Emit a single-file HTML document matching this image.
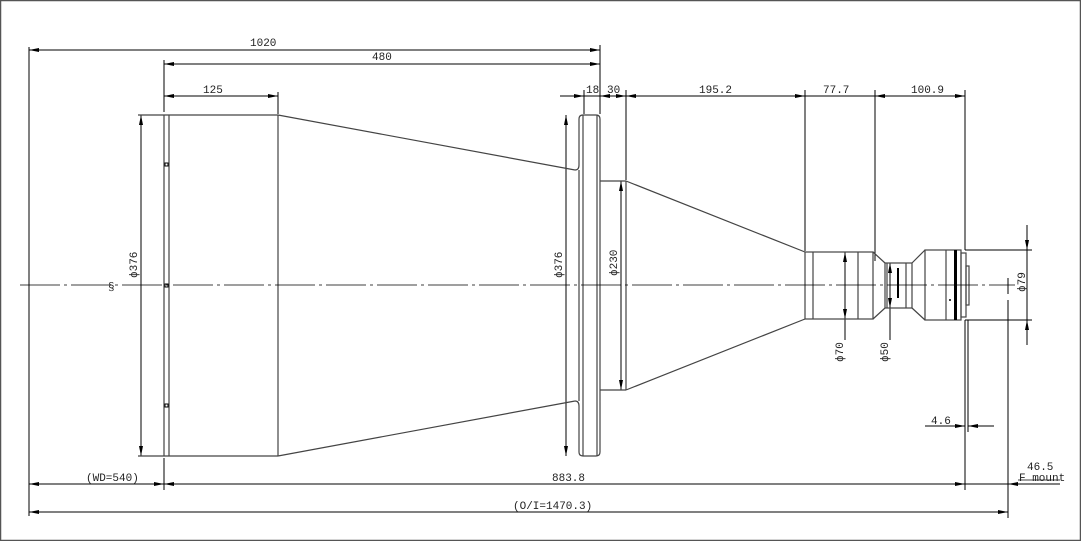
<!DOCTYPE html>
<html><head><style>
html,body{margin:0;padding:0;background:#fff;}
svg{display:block;}
text{font-family:"Liberation Mono","DejaVu Sans Mono",monospace;font-size:11px;fill:#222;}
</style></head><body>
<svg width="1081" height="541" viewBox="0 0 1081 541" xmlns="http://www.w3.org/2000/svg">
<defs>
<marker id="a" viewBox="0 0 10 4" refX="10" refY="2" markerWidth="10" markerHeight="4" orient="auto-start-reverse" markerUnits="userSpaceOnUse"><path d="M0,0 L10,2 L0,4Z" fill="#000"/></marker>
</defs>
<rect x="0.5" y="0.5" width="1080" height="540" fill="none" stroke="#555" stroke-width="1.5"/>
<g stroke="#000" stroke-width="1" fill="none">
<!-- extension lines -->
<line x1="29" y1="47" x2="29" y2="516"/>
<line x1="164" y1="60" x2="164" y2="112"/>
<line x1="164" y1="458" x2="164" y2="490"/>
<line x1="278" y1="92" x2="278" y2="114"/>
<line x1="600" y1="45" x2="600" y2="114"/>
<line x1="584" y1="90" x2="584" y2="114"/>
<line x1="626" y1="90" x2="626" y2="180"/>
<line x1="805" y1="90" x2="805" y2="251"/>
<line x1="875" y1="90" x2="875" y2="261"/>
<line x1="965" y1="90" x2="965" y2="250"/>
<line x1="965" y1="320" x2="965" y2="490"/>
<line x1="968" y1="320" x2="968" y2="432"/>
<line x1="1008" y1="300" x2="1008" y2="518"/>
<line x1="1008" y1="278" x2="1008" y2="294"/>
<!-- dimension lines -->
<line x1="29" y1="50" x2="600" y2="50" marker-start="url(#a)" marker-end="url(#a)"/>
<line x1="164" y1="64" x2="600" y2="64" marker-start="url(#a)" marker-end="url(#a)"/>
<line x1="164" y1="96" x2="278" y2="96" marker-start="url(#a)" marker-end="url(#a)"/>
<line x1="560" y1="96" x2="584" y2="96" marker-end="url(#a)"/>
<line x1="600" y1="96" x2="584" y2="96"/>
<line x1="600" y1="96" x2="626" y2="96"/>
<line x1="610" y1="96" x2="600" y2="96" marker-end="url(#a)"/>
<line x1="616" y1="96" x2="626" y2="96" marker-end="url(#a)"/>
<line x1="626" y1="96" x2="805" y2="96" marker-start="url(#a)" marker-end="url(#a)"/>
<line x1="805" y1="96" x2="875" y2="96"/>
<line x1="875" y1="96" x2="965" y2="96" marker-start="url(#a)" marker-end="url(#a)"/>
<line x1="141" y1="115" x2="141" y2="456" marker-start="url(#a)" marker-end="url(#a)"/>
<line x1="566" y1="115" x2="566" y2="456" marker-start="url(#a)" marker-end="url(#a)"/>
<line x1="621" y1="181" x2="621" y2="390" marker-start="url(#a)" marker-end="url(#a)"/>
<line x1="845" y1="252" x2="845" y2="319" marker-start="url(#a)" marker-end="url(#a)"/>
<line x1="890" y1="263" x2="890" y2="308" marker-start="url(#a)" marker-end="url(#a)"/>
<line x1="845" y1="319" x2="845" y2="340"/><line x1="890" y1="308" x2="890" y2="340"/>
<line x1="1027" y1="225" x2="1027" y2="250" marker-end="url(#a)"/>
<line x1="1027" y1="345" x2="1027" y2="320" marker-end="url(#a)"/>
<line x1="1027" y1="250" x2="1027" y2="320"/>
<line x1="965" y1="250" x2="1032" y2="250"/>
<line x1="965" y1="320" x2="1032" y2="320"/>
<line x1="925" y1="426" x2="965" y2="426" marker-end="url(#a)"/>
<line x1="994" y1="426" x2="968" y2="426" marker-end="url(#a)"/>
<line x1="29" y1="484" x2="164" y2="484" marker-start="url(#a)" marker-end="url(#a)"/>
<line x1="164" y1="484" x2="965" y2="484" marker-start="url(#a)" marker-end="url(#a)"/>
<line x1="1060" y1="484" x2="1008" y2="484"/>
<line x1="1022" y1="484" x2="1008" y2="484" marker-end="url(#a)"/>
<line x1="965" y1="484" x2="1008" y2="484"/>
<line x1="1018" y1="480" x2="1060" y2="480" stroke-width="0.8"/>
<line x1="29" y1="512" x2="1008" y2="512" marker-start="url(#a)" marker-end="url(#a)"/>
</g>
<!-- lens body -->
<g stroke="#444" stroke-width="1.2" fill="none">
<line x1="138" y1="115" x2="278" y2="115"/>
<line x1="138" y1="456" x2="278" y2="456"/>
<line x1="164" y1="115" x2="164" y2="456"/>
<line x1="169" y1="115" x2="169" y2="456"/>
<line x1="278" y1="115" x2="278" y2="456"/>
<line x1="278" y1="115" x2="575" y2="170"/>
<line x1="278" y1="456" x2="575" y2="401"/>
<path d="M575,170 Q579,170 579,165 L579,119 Q579,115 583,115 L596,115 Q600,115 600,119 L600,452 Q600,456 596,456 L583,456 Q579,456 579,452 L579,406 Q579,401 575,401"/>
<line x1="583" y1="115" x2="583" y2="456"/>
<line x1="597" y1="115" x2="597" y2="456"/>
<line x1="579" y1="170" x2="579" y2="401"/>
<line x1="600" y1="181" x2="626" y2="181"/>
<line x1="600" y1="390" x2="626" y2="390"/>
<line x1="626" y1="181" x2="626" y2="390"/>
<line x1="626" y1="181" x2="805" y2="252"/>
<line x1="626" y1="390" x2="805" y2="319"/>
<rect x="805" y="252" width="68" height="67"/>
<line x1="813" y1="252" x2="813" y2="319"/>
<line x1="858" y1="252" x2="858" y2="319"/>
<line x1="873" y1="252" x2="885" y2="263"/>
<line x1="873" y1="319" x2="885" y2="308"/>
<rect x="885" y="263" width="27" height="45"/>
<line x1="887" y1="263" x2="887" y2="308"/>
<line x1="906" y1="263" x2="906" y2="308"/>
<line x1="912" y1="263" x2="925" y2="250"/>
<line x1="912" y1="308" x2="925" y2="320"/>
<rect x="925" y="250" width="36" height="70"/>
<line x1="946" y1="250" x2="946" y2="320"/>
<rect x="961" y="253" width="5" height="64"/>
<rect x="966" y="266" width="3" height="39"/>
</g>
<rect x="954" y="250" width="3" height="70" fill="#000"/>
<g fill="#fff" stroke="#000" stroke-width="1">
<rect x="165" y="163" width="3" height="3"/><rect x="165" y="284" width="3" height="3"/><rect x="165" y="404" width="3" height="3"/>
</g>
<g fill="#000"><rect x="897" y="268" width="2" height="30"/><circle cx="950" cy="300" r="1"/></g>
<!-- centre line -->
<line x1="20" y1="285" x2="1015" y2="285" stroke="#000" stroke-width="0.8" stroke-dasharray="40,4,3,4"/>
<text x="108" y="290" font-size="10">§</text>
<!-- texts -->
<text x="250" y="46">1020</text>
<text x="372" y="60">480</text>
<text x="203" y="93">125</text>
<text x="586" y="93">18</text>
<text x="607" y="93">30</text>
<text x="699" y="93">195.2</text>
<text x="823" y="93">77.7</text>
<text x="911" y="93">100.9</text>
<text x="931" y="424">4.6</text>
<text x="1027" y="470">46.5</text>
<text x="1019" y="481">F mount</text>
<text x="86" y="481">(WD=540)</text>
<text x="552" y="481">883.8</text>
<text x="513" y="509">(O/I=1470.3)</text>
<g font-size="12">
<text transform="translate(137,278) rotate(-90)">ϕ376</text>
<text transform="translate(562,278) rotate(-90)">ϕ376</text>
<text transform="translate(617,276) rotate(-90)">ϕ230</text>
<text transform="translate(843,362) rotate(-90)">ϕ70</text>
<text transform="translate(888,362) rotate(-90)">ϕ50</text>
<text transform="translate(1025,292) rotate(-90)">ϕ79</text>
</g>
</svg>
</body></html>
